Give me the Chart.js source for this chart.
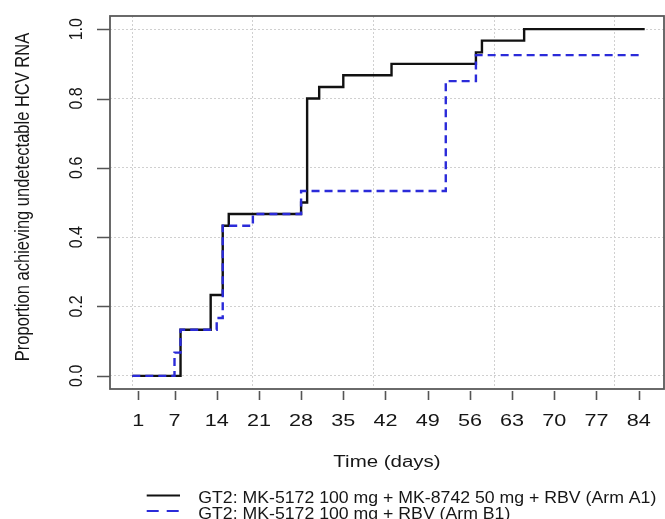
<!DOCTYPE html>
<html>
<head>
<meta charset="utf-8">
<script src="https://cdn.jsdelivr.net/npm/chart.js@4/dist/chart.umd.min.js"></script>
<style>
  html, body { margin: 0; padding: 0; background: #fff; }
  canvas { display: block; }
</style>
</head>
<body>
<canvas id="kmChart" width="665" height="519"></canvas>
<script>
// Arm A1 (solid black) - step times and proportions
const armADays = [0, 8, 13, 15, 16, 28, 29, 31, 35, 43, 57, 58, 65, 85];
const armAProp = [0, 0.133, 0.233, 0.433, 0.467, 0.5, 0.8, 0.833, 0.867, 0.9, 0.933, 0.967, 1.0, 1.0];

// Arm B1 (dashed blue)
const armBDays = [0, 7, 8, 14, 15, 20, 28, 52, 57, 84];
const armBProp = [0, 0.067, 0.133, 0.167, 0.433, 0.467, 0.533, 0.85, 0.925, 0.925];

const xTickDays = [1, 7, 14, 21, 28, 35, 42, 49, 56, 63, 70, 77, 84];
const yTickValues = [0, 0.2, 0.4, 0.6, 0.8, 1.0];
const gridDays = [0, 20, 40, 60, 80];

const legendLabels = [
  'GT2: MK-5172 100 mg + MK-8742 50 mg + RBV (Arm A1)',
  'GT2: MK-5172 100 mg + RBV (Arm B1)'
];

const FONT = "'Liberation Sans', Arial, sans-serif";

function toPoints(xs, ys) {
  return xs.map((x, i) => ({ x: x, y: ys[i] }));
}

// draws horizontally stretched text (the source image is stretched sideways)
function wideText(ctx, text, x, y, sx, align) {
  ctx.save();
  ctx.translate(x, y);
  ctx.scale(sx, 1);
  ctx.textAlign = align;
  ctx.fillText(text, 0, 0);
  ctx.restore();
}

function upText(ctx, text, x, y, sx) {
  ctx.save();
  ctx.translate(x, y);
  ctx.scale(sx, 1);
  ctx.rotate(-Math.PI / 2);
  ctx.textAlign = 'center';
  ctx.fillText(text, 0, 0);
  ctx.restore();
}

const axesPlugin = {
  id: 'rStyleAxes',
  afterDraw(chart) {
    const ctx = chart.ctx;
    const a = chart.chartArea;
    const xs = chart.scales.x;
    const ys = chart.scales.y;
    ctx.save();

    // plot box
    ctx.strokeStyle = '#5a5a5a';
    ctx.lineWidth = 1.8;
    ctx.strokeRect(a.left, a.top, a.right - a.left, a.bottom - a.top);

    // tick marks
    ctx.beginPath();
    xTickDays.forEach(d => {
      const px = Math.round(xs.getPixelForValue(d)) + 0.5;
      ctx.moveTo(px, a.bottom + 2);
      ctx.lineTo(px, a.bottom + 11);
    });
    yTickValues.forEach(v => {
      const py = Math.round(ys.getPixelForValue(v)) + 0.5;
      ctx.moveTo(a.left - 13, py);
      ctx.lineTo(a.left, py);
    });
    ctx.strokeStyle = '#555';
    ctx.lineWidth = 1.6;
    ctx.stroke();

    ctx.fillStyle = '#161616';
    ctx.textBaseline = 'alphabetic';

    // x tick labels
    ctx.font = '16px ' + FONT;
    xTickDays.forEach(d => {
      wideText(ctx, String(d), xs.getPixelForValue(d), 426, 1.35, 'center');
    });

    // y tick labels (rotated, R style)
    yTickValues.forEach(v => {
      upText(ctx, v.toFixed(1), 81.5, ys.getPixelForValue(v), 1.12);
    });

    // axis titles
    wideText(ctx, 'Time (days)', (a.left + a.right) / 2, 466.5, 1.28, 'center');
    ctx.font = '16.5px ' + FONT;
    upText(ctx, 'Proportion achieving undetectable HCV RNA', 28.5, 197, 1.25);

    // legend
    ctx.font = '16px ' + FONT;
    const sx = 458 / ctx.measureText(legendLabels[0]).width;
    wideText(ctx, legendLabels[0], 198.3, 503, sx, 'left');
    wideText(ctx, legendLabels[1], 198.3, 518.5, sx, 'left');

    ctx.lineWidth = 2;
    ctx.strokeStyle = '#111';
    ctx.beginPath();
    ctx.moveTo(146.7, 495.5);
    ctx.lineTo(180, 495.5);
    ctx.stroke();

    ctx.strokeStyle = '#2b2bd9';
    ctx.setLineDash([12, 8]);
    ctx.beginPath();
    ctx.moveTo(146.7, 511);
    ctx.lineTo(180, 511);
    ctx.stroke();

    ctx.restore();
  }
};

const ctx = document.getElementById('kmChart').getContext('2d');
const kmChart = new Chart(ctx, {
  type: 'line',
  data: {
    datasets: [{
      label: legendLabels[0],
      data: toPoints(armADays, armAProp),
      borderColor: '#111',
      borderWidth: 2.4,
      stepped: 'before',
      pointRadius: 0,
      fill: false,
      order: 1
    }, {
      label: legendLabels[1],
      data: toPoints(armBDays, armBProp),
      borderColor: '#2b2bd9',
      borderWidth: 2.4,
      borderDash: [8, 5],
      stepped: 'before',
      pointRadius: 0,
      fill: false,
      order: 0
    }]
  },
  options: {
    responsive: false,
    animation: false,
    layout: {
      padding: { left: 110, right: 1, top: 16, bottom: 130 }
    },
    plugins: {
      legend: { display: false },
      tooltip: { enabled: false }
    },
    scales: {
      x: {
        type: 'linear',
        bounds: 'data',
        min: -3.7,
        max: 88.2,
        afterBuildTicks: s => { s.ticks = gridDays.map(v => ({ value: v })); },
        ticks: { display: false },
        grid: { color: '#d0d0d0', lineWidth: 1, drawTicks: false },
        border: { display: false, dash: [2, 2] }
      },
      y: {
        type: 'linear',
        bounds: 'data',
        min: -0.038,
        max: 1.038,
        afterBuildTicks: s => { s.ticks = yTickValues.map(v => ({ value: v })); },
        ticks: { display: false },
        grid: { color: '#d0d0d0', lineWidth: 1, drawTicks: false },
        border: { display: false, dash: [2, 2] }
      }
    }
  },
  plugins: [axesPlugin]
});
</script>
</body>
</html>
